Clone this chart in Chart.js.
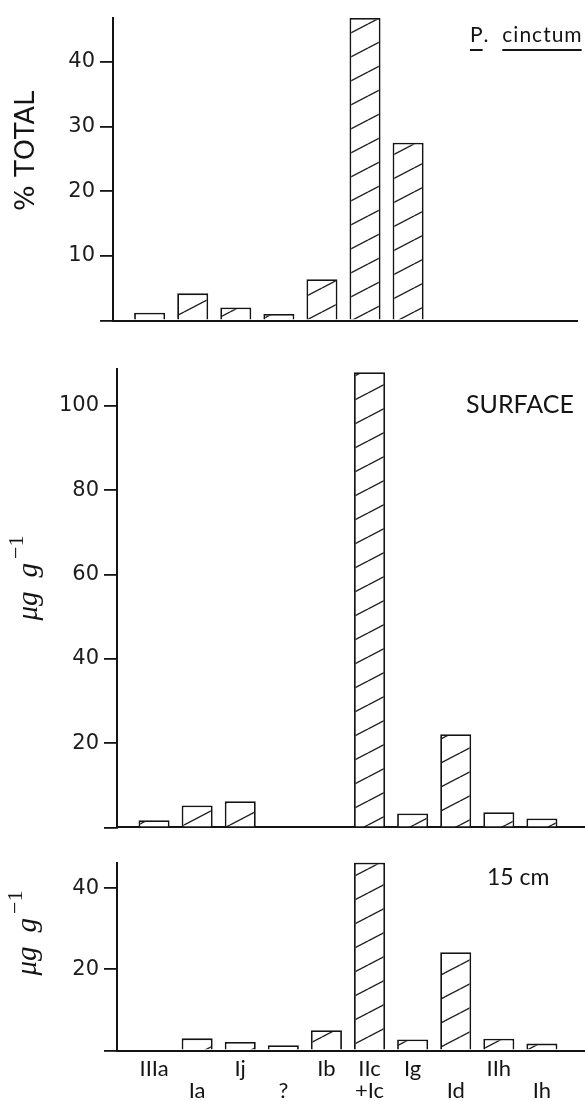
<!DOCTYPE html>
<html>
<head>
<meta charset="utf-8">
<script src="https://cdn.jsdelivr.net/npm/chart.js@4.4.1/dist/chart.umd.min.js"></script>
<style>
  html, body { margin: 0; padding: 0; background: #fff; }
  #wrap { position: relative; width: 585px; height: 1101px; overflow: hidden; }
  canvas { position: absolute; left: 0; }
</style>
</head>
<body>
<div id="wrap">
  <canvas id="pctChart" width="585" height="345" style="top:0"></canvas>
  <canvas id="surfChart" width="585" height="500" style="top:345px"></canvas>
  <canvas id="deepChart" width="585" height="256" style="top:845px"></canvas>
</div>
<script>
// categories along the x axis (same for all three panels)
const categories = ['IIIa', 'Ia', 'Ij', '?', 'Ib', 'IIc+Ic', 'Ig', 'Id', 'IIh', 'Ih'];
// labels are staggered on two rows under the bottom panel
const xLabelRows = [
  ['IIIa', ''], ['', 'Ia'], ['Ij', ''], ['', '?'], ['Ib', ''],
  ['IIc', '+Ic'], ['Ig', ''], ['', 'Id'], ['IIh', ''], ['', 'Ih']
];

// P. cinctum, % of total
const pctTotal = [1.2, 4.2, 2.0, 1.0, 6.4, 46.8, 27.5, null, null, null];
// surface, ug/g
const surface = [1.7, 5.2, 6.2, null, null, 108, 3.3, 22.1, 3.6, 2.1];
// 15 cm, ug/g
const depth15 = [null, 3.0, 2.1, 1.3, 5.0, 46.3, 2.7, 24.2, 2.9, 1.7];

const INK = '#141414';

function hatch(ctx) {
  const tile = document.createElement('canvas');
  tile.width = 46;
  tile.height = 24;
  const t = tile.getContext('2d');
  t.fillStyle = '#fff';
  t.fillRect(0, 0, 46, 24);
  t.strokeStyle = '#222';
  t.lineWidth = 1.4;
  for (const dy of [-24, 0, 24]) {
    t.beginPath();
    t.moveTo(0, 24 + dy);
    t.lineTo(46, dy);
    t.stroke();
  }
  return ctx.createPattern(tile, 'repeat');
}

// axis title (rotated) and the panel caption, drawn on top of the chart
const panelText = {
  id: 'panelText',
  afterDraw(chart, args, opts) {
    const ctx = chart.ctx;
    ctx.save();
    ctx.fillStyle = INK;

    // rotated y title, made of parts (for the superscript)
    const t = opts.title;
    ctx.translate(t.x, t.y);
    ctx.rotate(-Math.PI / 2);
    ctx.textBaseline = 'middle';
    let total = 0;
    t.parts.forEach(p => { ctx.font = p.font; total += ctx.measureText(p.text).width + (p.gap || 0); });
    let px = -total / 2;
    t.parts.forEach(p => {
      ctx.font = p.font;
      ctx.fillText(p.text, px, p.raise ? -p.raise : 0);
      px += ctx.measureText(p.text).width + (p.gap || 0);
    });
    ctx.setTransform(1, 0, 0, 1, 0, 0);

    // caption
    const c = opts.caption;
    ctx.font = c.font;
    ctx.letterSpacing = c.spacing || '0px';
    ctx.textBaseline = 'alphabetic';
    let cx = c.x;
    c.parts.forEach(p => {
      const w = ctx.measureText(p.text).width;
      ctx.fillText(p.text, cx, c.y);
      if (p.underline) {
        ctx.fillRect(cx, c.y + 7, w - 1, 2);
      }
      cx += w;
    });
    ctx.restore();
  }
};

function makeChart(id, values, o) {
  const ctx = document.getElementById(id).getContext('2d');
  return new Chart(ctx, {
    type: 'bar',
    data: {
      datasets: [{
        data: values.map((v, i) => ({ x: i, y: v })),
        backgroundColor: hatch(ctx),
        borderColor: INK,
        borderWidth: 1.8,
        barPercentage: 0.72,
        categoryPercentage: 1
      }]
    },
    options: {
      responsive: false,
      animation: false,
      layout: { padding: { top: o.top, right: o.right, left: 0, bottom: 0 } },
      plugins: {
        legend: { display: false },
        tooltip: { enabled: false },
        panelText: { title: o.title, caption: o.caption }
      },
      scales: {
        x: {
          type: 'linear',
          offset: false,
          min: o.xMin,
          max: o.xMax,
          afterBuildTicks: s => { s.ticks = categories.map((c, i) => ({ value: i })); },
          afterFit: s => { s.height = o.xHeight; },
          grid: { display: false, drawTicks: false, offset: false },
          border: { display: true, color: INK, width: 2 },
          ticks: {
            display: o.showLabels,
            autoSkip: false,
            maxRotation: 0,
            padding: 7,
            color: INK,
            font: { family: 'Lato', size: 22, lineHeight: 1.0 },
            callback: v => xLabelRows[v]
          }
        },
        y: {
          min: 0,
          max: o.yMax,
          afterFit: s => { s.width = o.yWidth; },
          grid: { drawOnChartArea: false, tickLength: 13, color: INK, lineWidth: 1.8 },
          border: { display: true, color: INK, width: 2 },
          ticks: {
            stepSize: o.step,
            includeBounds: false,
            padding: 5,
            color: '#1c1c1c',
            font: { family: 'DejaVu Sans', size: 21 },
            callback: v => (v === 0 ? '' : v)
          }
        }
      }
    },
    plugins: [panelText]
  });
}

const ugTitle = (x, y) => ({
  x, y,
  parts: [
    { text: 'μg', font: 'italic 29px "Liberation Serif"', gap: 14 },
    { text: 'g', font: 'italic 29px "Liberation Serif"', gap: 4 },
    { text: '−1', font: '22px "Liberation Serif"', raise: 12 }
  ]
});

makeChart('pctChart', pctTotal, {
  top: 18, right: 8, yWidth: 113, xHeight: 24.5,
  xMin: -0.85, xMax: 9.92, yMax: 46.8, step: 10, showLabels: false,
  title: { x: 27, y: 151, parts: [{ text: '% TOTAL', font: '27px "DejaVu Sans"' }] },
  caption: {
    x: 470, y: 42, font: '21px Lato', spacing: '1px',
    parts: [{ text: 'P', underline: true }, { text: '.  ' }, { text: 'cinctum', underline: true }]
  }
});

makeChart('surfChart', surface, {
  top: 24.3, right: 0, yWidth: 117, xHeight: 8.3,
  xMin: -0.86, xMax: 10.0, yMax: 108.7, step: 20, showLabels: false,
  title: ugTitle(29, 233),
  caption: { x: 466, y: 68, font: '25px Lato', parts: [{ text: 'SURFACE' }] }
});

makeChart('deepChart', depth15, {
  top: 8.3, right: 0, yWidth: 117, xHeight: 50.5,
  xMin: -0.86, xMax: 10.0, yMax: 46.3, step: 20, showLabels: true,
  title: ugTitle(28, 88),
  caption: { x: 487, y: 40, font: '23px Lato', parts: [{ text: '15 cm' }] }
});
</script>
</body>
</html>
